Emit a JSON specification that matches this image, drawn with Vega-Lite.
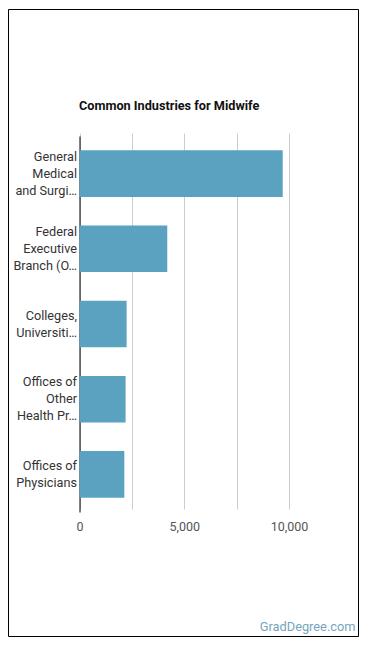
{
  "$schema": "https://vega.github.io/schema/vega-lite/v6.json",
  "width": 350,
  "height": 627,
  "padding": {"left": 8, "top": 9, "right": 12, "bottom": 12},
  "background": "#ffffff",
  "title": {
    "text": "Common Industries for Midwife",
    "anchor": "start",
    "frame": "group",
    "orient": "top",
    "offset": 0,
    "baseline": "alphabetic",
    "dx": 71,
    "dy": 114,
    "font": "Roboto",
    "fontSize": 12.7,
    "fontWeight": "bold",
    "color": "#111111"
  },
  "data": {
    "values": [
      {"industry": "General\nMedical\nand Surgi…", "employees": 9700},
      {"industry": "Federal\nExecutive\nBranch (O…", "employees": 4190},
      {"industry": "Colleges,\nUniversiti…", "employees": 2250},
      {"industry": "Offices of\nOther\nHealth Pr…", "employees": 2200},
      {"industry": "Offices of\nPhysicians", "employees": 2140}
    ]
  },
  "mark": {"type": "bar", "color": "#5ba2c1"},
  "encoding": {
    "y": {
      "field": "industry",
      "type": "nominal",
      "sort": null,
      "scale": {"range": [127, 503], "paddingInner": 0.38, "paddingOuter": 0.19},
      "axis": {
        "title": null,
        "offset": -71.5,
        "ticks": false,
        "grid": false,
        "domain": true,
        "domainColor": "#000000",
        "domainWidth": 1,
        "labelPadding": 3,
        "labelFont": "Roboto",
        "labelFontSize": 12.7,
        "labelColor": "#333333",
        "labelLineHeight": 17,
        "labelLimit": 200,
        "labelOffset": {
          "condition": {"test": "length(split(datum.value, '\\n')) === 2", "value": -8.5},
          "value": -17
        },
        "labelExpr": "split(datum.label, '\\n')"
      }
    },
    "x": {
      "field": "employees",
      "type": "quantitative",
      "scale": {"domain": [0, 10000], "range": [71.5, 281], "nice": false},
      "axis": {
        "values": [0, 2500, 5000, 7500, 10000],
        "offset": -124,
        "domain": false,
        "ticks": false,
        "grid": true,
        "gridColor": "#cccccc",
        "gridWidth": 1,
        "labelFlush": false,
        "labelOverlap": false,
        "labelPadding": 8,
        "labelFont": "Roboto",
        "labelFontSize": 12.5,
        "labelColor": "#555555",
        "labelExpr": "datum.value % 5000 === 0 ? format(datum.value, ',') : ''",
        "title": "GradDegree.com",
        "titleFont": "Roboto",
        "titleFontSize": 12.8,
        "titleFontWeight": "normal",
        "titleColor": "#76a5c0",
        "titleAlign": "right",
        "titleBaseline": "alphabetic",
        "titleX": 347,
        "titleY": 118
      }
    }
  },
  "config": {
    "view": {"stroke": "#000000", "strokeWidth": 1}
  }
}
